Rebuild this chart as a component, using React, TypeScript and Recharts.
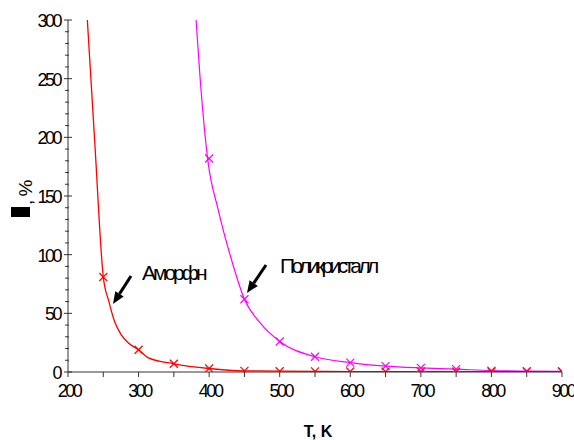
import React from 'react';
import { ComposedChart, Line, Scatter, XAxis, YAxis, Customized } from 'recharts';

const FONT = '"Liberation Sans", Arial, sans-serif';
const RED = '#ff0000';
const MAGENTA = '#ff00ff';

// temperature ticks (K) and efficiency ticks (%)
const xTicks = [200, 250, 300, 350, 400, 450, 500, 550, 600, 650, 700, 750, 800, 850, 900];
const yTicks = Array.from({ length: 31 }, (_, i) => i * 10);

// fitted curves
const amorphCurveT = [227, 238, 250, 258, 266, 275, 287, 300, 314, 350, 400, 450, 500, 550, 600, 700, 800, 900];
const amorphCurveV = [304, 195, 81, 60, 43, 32, 24, 19, 12, 7, 3, 1, 0.8, 0.6, 0.4, 0.4, 0.4, 0.4];
const polyCurveT = [381, 387, 398, 413, 432, 450, 472, 500, 550, 600, 650, 700, 750, 800, 850, 900];
const polyCurveV = [304, 252, 181, 138, 95, 62, 42, 26, 13, 8, 5, 3.5, 2.5, 1.2, 0.8, 0.6];

// measured points (x markers)
const amorphT = [250, 300, 350, 400, 450, 500, 550, 600, 650, 700, 750, 800, 850, 900];
const amorphV = [81, 19, 7, 3, 1, 0.6, 0.5, 0.4, 0.3, 0.3, 0.3, 0.3, 0.3, 0.3];
const polyT = [400, 450, 500, 550, 600, 650, 700, 750, 800, 850, 900];
const polyV = [182, 62, 26, 13, 8, 5, 3.5, 2.5, 1.2, 0.8, 0.6];

const zip = (xs: number[], ys: number[]) => xs.map((T, i) => ({ T, v: ys[i] }));
const amorphCurve = zip(amorphCurveT, amorphCurveV);
const polyCurve = zip(polyCurveT, polyCurveV);
const amorphPts = zip(amorphT, amorphV);
const polyPts = zip(polyT, polyV);

const XTick = (props: any) => {
  const { x, y, payload } = props;
  const major = payload.value % 100 === 0;
  return (
    <g>
      <line x1={x} x2={x} y1={y} y2={y + 5} stroke="#333" />
      {major && (
        <text x={x + 1} y={y + 25} textAnchor="middle" fontFamily={FONT} fontSize={18} letterSpacing={-2.5} fill="#000">
          {payload.value}
        </text>
      )}
    </g>
  );
};

const YTick = (props: any) => {
  const { x, y, payload } = props;
  const major = payload.value % 50 === 0;
  return (
    <g>
      {major ? (
        <line x1={x - 4} x2={x + 4} y1={y} y2={y} stroke="#333" />
      ) : (
        <line x1={x - 3} x2={x + 1} y1={y} y2={y} stroke="#333" />
      )}
      {major && (
        <text x={x - 8} y={y + 7} textAnchor="end" fontFamily={FONT} fontSize={18} letterSpacing={-2.5} fill="#000">
          {payload.value}
        </text>
      )}
    </g>
  );
};

const cross = (color: string) => (props: any) => {
  const { cx, cy } = props;
  const s = 4;
  return (
    <g stroke={color} strokeWidth={1.2}>
      <line x1={cx - s} y1={cy - s} x2={cx + s} y2={cy + s} />
      <line x1={cx - s} y1={cy + s} x2={cx + s} y2={cy - s} />
    </g>
  );
};

const Arrow = ({ x1, y1, x2, y2 }: { x1: number; y1: number; x2: number; y2: number }) => {
  const dx = x2 - x1;
  const dy = y2 - y1;
  const len = Math.sqrt(dx * dx + dy * dy);
  const ux = dx / len;
  const uy = dy / len;
  const hl = 12;
  const hw = 5;
  const bx = x2 - ux * hl;
  const by = y2 - uy * hl;
  return (
    <g>
      <line x1={x1} y1={y1} x2={bx} y2={by} stroke="#000" strokeWidth={3} />
      <polygon
        points={`${x2},${y2} ${bx - uy * hw},${by + ux * hw} ${bx + uy * hw},${by - ux * hw}`}
        fill="#000"
      />
    </g>
  );
};

const Annotations = () => (
  <g>
    <text x={142} y={280} fontFamily={FONT} fontSize={21} letterSpacing={-3} fill="#000">
      Аморфн
    </text>
    <text x={280} y={273} fontFamily={FONT} fontSize={21} letterSpacing={-3.6} fill="#000">
      Поликристалл
    </text>
    <Arrow x1={131} y1={276} x2={113} y2={304} />
    <Arrow x1={266} y1={265} x2={247} y2={293} />
    {/* y axis title */}
    <rect x={11} y={207} width={19} height={10} fill="#000" />
    <text
      transform="rotate(-90, 32, 205)"
      x={32}
      y={205}
      fontFamily={FONT}
      fontSize={19}
      letterSpacing={-1}
      fill="#000"
    >
      , %
    </text>
    <text x={318} y={437} textAnchor="middle" fontFamily={FONT} fontSize={16} fontWeight="bold" fill="#000">
      T, K
    </text>
  </g>
);

export default function App() {
  return (
    <div style={{ position: 'absolute', left: 0, top: 0, width: 574, height: 440, background: '#fff' }}>
      <ComposedChart width={574} height={440} margin={{ top: 20, right: 12, bottom: 0, left: 0 }}>
        <XAxis
          type="number"
          dataKey="T"
          domain={[200, 900]}
          ticks={xTicks}
          allowDataOverflow
          height={68}
          tickSize={0}
          tickMargin={0}
          tick={<XTick />}
          axisLine={{ stroke: '#333' }}
          interval={0}
        />
        <YAxis
          type="number"
          dataKey="v"
          domain={[0, 300]}
          ticks={yTicks}
          allowDataOverflow
          width={68}
          tickSize={0}
          tickMargin={0}
          tick={<YTick />}
          axisLine={{ stroke: '#333' }}
          interval={0}
        />
        <Line data={polyCurve} dataKey="v" type="monotone" stroke={MAGENTA} strokeWidth={1.2} dot={false} isAnimationActive={false} />
        <Line data={amorphCurve} dataKey="v" type="monotone" stroke={RED} strokeWidth={1.3} dot={false} isAnimationActive={false} />
        <Scatter data={polyPts} dataKey="v" shape={cross(MAGENTA)} isAnimationActive={false} />
        <Scatter data={amorphPts} dataKey="v" shape={cross(RED)} isAnimationActive={false} />
        <Customized component={Annotations} />
      </ComposedChart>
    </div>
  );
}
